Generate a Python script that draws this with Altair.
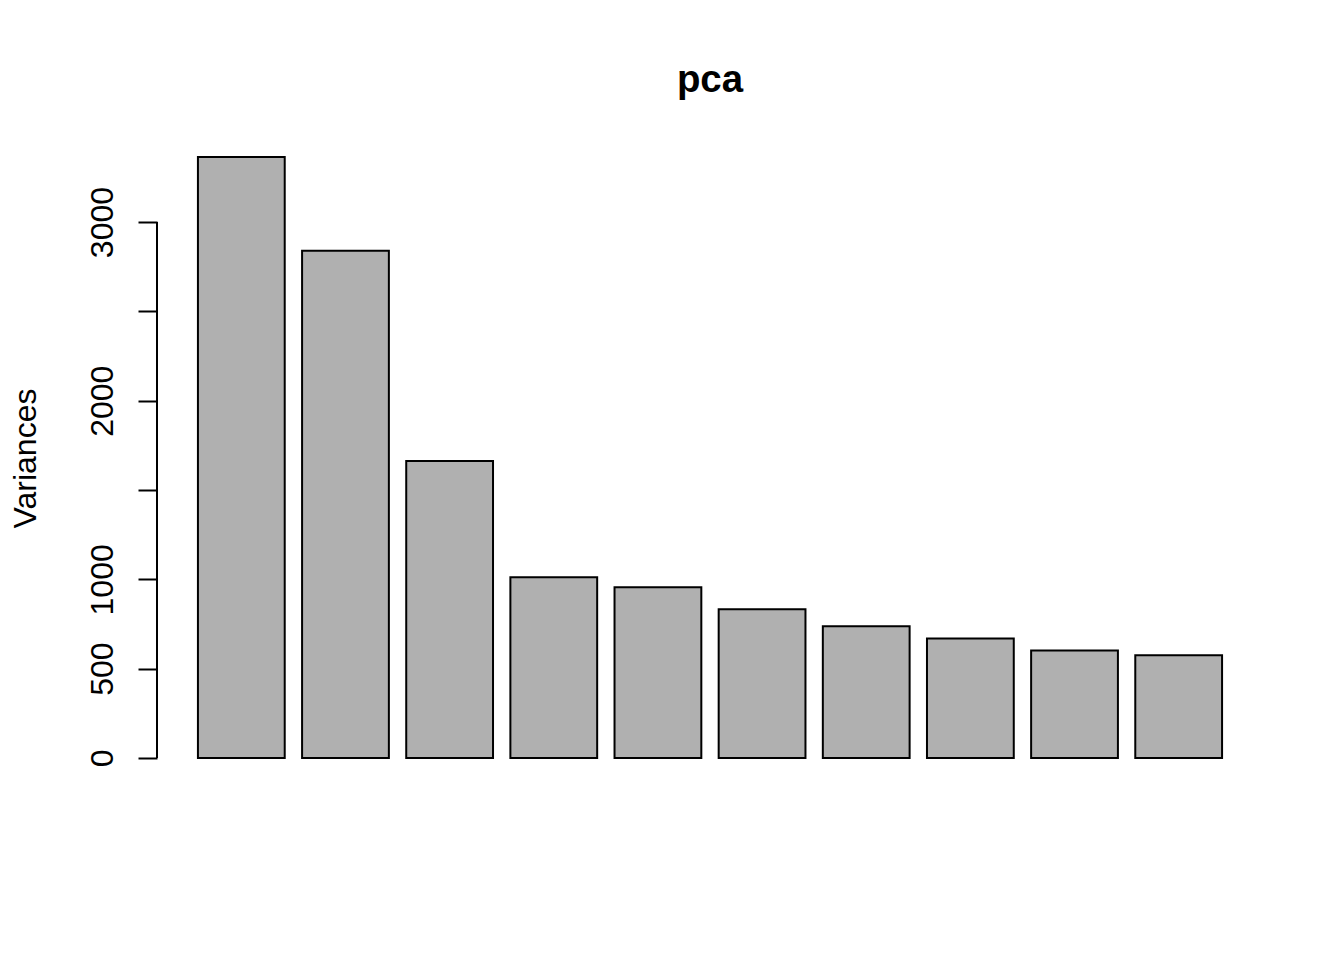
import altair as alt
import pandas as pd

components = ["PC1", "PC2", "PC3", "PC4", "PC5", "PC6", "PC7", "PC8", "PC9", "PC10"]
variances = [3364, 2839, 1662, 1012, 956, 833, 738, 669, 602, 575]
tick_values = [0, 500, 1000, 1500, 2000, 2500, 3000]
hidden_labels = [1500, 2500]

df = pd.DataFrame({"pc": components, "var": variances})
ymax = max(variances)
ydom = [-0.04 * ymax, ymax * 1.04]

FONT = "Liberation Sans"
W, H = 1106, 649

yscale = alt.Scale(domain=ydom, nice=False, zero=False)

label_expr = "indexof(%s, datum.value) >= 0 ? '' : format(datum.value, 'd')" % str(hidden_labels)

bars = alt.Chart(df).mark_bar(
    fill="#B0B0B0", stroke="black", strokeWidth=2, strokeJoin="miter"
).encode(
    x=alt.X("pc:N", sort=components,
            scale=alt.Scale(paddingInner=0.2 / 1.2, paddingOuter=0.393),
            axis=None),
    y=alt.Y("var:Q", scale=yscale,
            axis=alt.Axis(
                values=tick_values, domain=False, grid=False,
                ticks=True, tickSize=19, tickWidth=2, tickColor="black",
                labelExpr=label_expr,
                labelAngle=270, labelAlign="center", labelBaseline="alphabetic",
                labelPadding=26, labelFontSize=32, labelFont=FONT,
                labelColor="black", labelOverlap=False,
                title="Variances", titleFont=FONT, titleFontSize=32,
                titleFontWeight="normal", titleColor="black",
                titleAngle=270, titleAlign="center", titleBaseline="alphabetic",
                titleX=-122, titleY=325,
            )),
    y2=alt.datum(0),
)

axis_line = alt.Chart(pd.DataFrame({"lo": [0], "hi": [3000]})).mark_rule(
    color="black", strokeWidth=2
).encode(
    x=alt.value(0),
    y=alt.Y("lo:Q", scale=yscale),
    y2="hi:Q",
)

chart = alt.layer(bars, axis_line).properties(
    width=W, height=H,
    title=alt.TitleParams(
        text="pca", font=FONT, fontSize=38.4, fontWeight="bold",
        anchor="middle", baseline="alphabetic", offset=3, color="black",
    ),
    autosize=alt.AutoSizeParams(type="none"),
    padding={"left": 149, "top": 125, "right": 73, "bottom": 170},
).configure_view(stroke=None, strokeWidth=0)

chart.save("out.html", embed_options={"renderer": "svg", "actions": False})
